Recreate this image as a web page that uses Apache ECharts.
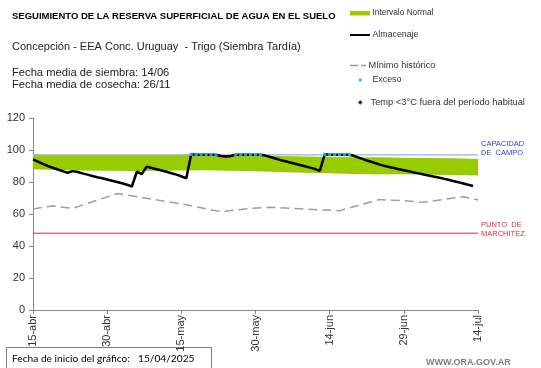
<!DOCTYPE html>
<html><head><meta charset="utf-8">
<script src="https://cdn.jsdelivr.net/npm/echarts@6/dist/echarts.min.js"></script>
<style>html,body{margin:0;padding:0;background:#fff}#c{width:541px;height:368px}</style>
</head><body><div id="c"></div>
<script>
// x tick labels (every 15 days from 15-abr)
const tickLabels = ['15-abr','30-abr','15-may','30-may','14-jun','29-jun','14-jul'];
// Almacenaje (mm), one value per day starting 15-abr
const almacenaje = [
 94.2, 92.7, 91.3, 90.0, 88.9, 87.8, 86.8, 85.8, 86.8, 86.2,
 85.4, 84.6, 83.8, 83.0, 82.3, 81.6, 80.8, 80.0, 79.2, 78.3,
 77.2, 86.4, 85.0, 89.6, 88.8, 88.0, 87.2, 86.4, 85.5, 84.6,
 83.6, 82.3, 97.3, 97.0, 97.0, 97.0, 97.0, 97.0, 96.2, 95.9,
 96.3, 97.0, 97.0, 97.0, 97.0, 97.0, 97.0, 96.5, 95.6, 94.7,
 93.8, 93.0, 92.2, 91.4, 90.6, 89.8, 89.0, 88.2, 86.9, 97.3,
 97.0, 97.0, 97.0, 97.0, 97.0, 96.2, 95.1, 94.0, 93.0, 92.0,
 91.0, 90.1, 89.4, 88.7, 88.0, 87.4, 86.7, 86.0, 85.4, 84.7,
 84.1, 83.4, 82.8, 82.1, 81.4, 80.6, 79.9, 79.1, 78.3, 77.5
];
// Exceso days (day index) and values
const excesoDias = [32,33,34,35,36,37,41,42,43,44,45,46,59,60,61,62,63,64];
const excesoVals = [97.3,97,97,97,97,97,97,97,97,97,97,97,97.3,97,97,97,97,97];
// Intervalo normal (every 5 days from 15-abr)
const bandDias = ['0','5','10','15','20','25','30','35','40','45','50','55','60','65','70','75','80','85','90'];
const bandLow  = [88.0,87.5,87.2,87.0,86.8,87.0,87.2,87.3,87.0,86.7,86.2,85.8,85.4,85.0,84.9,84.8,84.6,84.4,84.1];
const bandHigh = [97.0,97.0,97.0,97.0,97.0,97.0,97.0,97.0,96.9,96.6,96.2,95.9,95.6,95.5,95.4,95.2,95.0,94.8,94.4];
// Mínimo histórico
const minDias = [0,4,8,17,30,38,44,48,53,58,62,70,75,79,87,90];
const minVals = [63.2,65.0,63.5,72.8,66.3,61.5,63.5,64.2,63.4,62.6,62.1,69.0,68.3,67.3,70.8,68.8];
const capacidadCampo = 97;
const puntoMarchitez = 48;

const F = '"Liberation Sans", Arial, sans-serif';
const chart = echarts.init(document.getElementById('c'), null, {renderer:'canvas'});
const txt = (t, x, y, font, fill) => ({type:'text', x, y, silent:true,
  style:{text:t, font, fill: fill || '#1a1a1a', align:'left', verticalAlign:'middle'}});
const refLine = (name, val, color, width, label, labelColor, dy, z) => ({
  name, type:'line', symbol:'none', silent:true, z,
  lineStyle:{color, width, type:'solid'},
  data:[[0,val],[90,val]],
  endLabel:{show:true, formatter:label, color:labelColor, fontSize:7.5, lineHeight:9, fontFamily:F,
    distance:3, offset:[0,dy]}
});

chart.setOption({
  animation:false,
  grid:{left:33, right:63, top:118, bottom:58, containLabel:false, outerBoundsMode:'none'},
  xAxis:[
   {type:'value', min:0, max:90, interval:15,
    axisLine:{lineStyle:{color:'#868686', width:1}},
    axisTick:{show:true, length:4, lineStyle:{color:'#868686'}},
    splitLine:{show:false},
    axisLabel:{rotate:90, margin:5, fontSize:11, color:'#333', fontFamily:F,
      formatter:v => tickLabels[Math.round(v/15)] || ''}},
   {type:'category', data:bandDias, boundaryGap:false, show:false, position:'bottom'}
  ],
  yAxis:{type:'value', min:0, max:120, interval:20,
    name:'Milímetros', nameLocation:'middle', nameRotate:90, nameGap:26,
    nameTextStyle:{fontSize:6.5, fontWeight:'bold', color:'#333', fontFamily:F},
    axisLine:{show:true, lineStyle:{color:'#868686', width:1}},
    axisTick:{show:true, length:4, lineStyle:{color:'#868686'}},
    splitLine:{show:false},
    axisLabel:{fontSize:11, color:'#333', fontFamily:F, margin:8}},
  series:[
    {name:'bandLow', type:'line', xAxisIndex:1, stack:'band', symbol:'none', silent:true,
     lineStyle:{width:0, opacity:0},
     data: bandLow},
    {name:'Intervalo Normal', type:'line', xAxisIndex:1, stack:'band', symbol:'none', silent:true,
     lineStyle:{width:0, opacity:0}, areaStyle:{color:'#99CC00', opacity:1},
     data: bandHigh.map((h,i)=>+(h-bandLow[i]).toFixed(2))},
    refLine('Capacidad de campo', capacidadCampo, '#9CB2D6', 1.3, 'CAPACIDAD\nDE  CAMPO', '#3B3BB8', -6, 3),
    refLine('Punto de marchitez', puntoMarchitez, '#CC3333', 1, 'PUNTO  DE\nMARCHITEZ', '#CC3333', -4, 3),
    {name:'Mínimo histórico', type:'line', symbol:'none', silent:true, z:3,
     lineStyle:{color:'#9E9E9E', width:1.5, type:[9,5]},
     data: minDias.map((d,i)=>[d, minVals[i]])},
    {name:'Almacenaje', type:'line', symbol:'none', silent:true, z:4,
     lineStyle:{color:'#000', width:2.5},
     data: almacenaje.map((v,i)=>[i, v])},
    {name:'Exceso', type:'scatter', symbol:'rect', symbolSize:3.2, silent:true, z:5,
     itemStyle:{color:'#2EC4E6'},
     data: excesoDias.map((d,i)=>[d, excesoVals[i]])}
  ],
  graphic:[
    txt('SEGUIMIENTO DE LA RESERVA SUPERFICIAL DE AGUA EN EL SUELO', 12, 16, 'bold 9.5px '+F, '#000'),
    txt('Concepción - EEA Conc. Uruguay  - Trigo (Siembra Tardía)', 12, 46.5, '11px '+F, '#222'),
    txt('Fecha media de siembra: 14/06', 12, 73.4, '11.2px '+F, '#222'),
    txt('Fecha media de cosecha: 26/11', 12, 84.5, '11.2px '+F, '#222'),
    {type:'rect', silent:true, shape:{x:350, y:11, width:20, height:4.5}, style:{fill:'#99CC00'}},
    txt('Intervalo Normal', 372.5, 13, '8.3px '+F, '#333'),
    {type:'line', silent:true, shape:{x1:350, y1:35, x2:370, y2:35}, style:{stroke:'#000', lineWidth:2}},
    txt('Almacenaje', 372.5, 35, '8.8px '+F, '#333'),
    {type:'line', silent:true, shape:{x1:350, y1:65.5, x2:366, y2:65.5}, style:{stroke:'#999', lineWidth:1.5, lineDash:[8,3]}},
    txt('Mínimo histórico', 368.5, 65.5, '9.2px '+F, '#333'),
    {type:'circle', silent:true, shape:{cx:360.3, cy:80, r:1.7}, style:{fill:'#2EC4E6'}},
    txt('Exceso', 372.5, 80, '8.8px '+F, '#333'),
    {type:'polygon', silent:true, shape:{points:[[360.3,100],[362.6,102.4],[360.3,104.8],[358,102.4]]}, style:{fill:'#1F2A8C'}},
    txt('Temp <3°C fuera del período habitual', 370.5, 102.4, '9.3px '+F, '#333'),
    {type:'rect', silent:true, shape:{x:6.5, y:347.5, width:205, height:30}, style:{fill:'none', stroke:'#808080', lineWidth:1}},
    txt('Fecha de inicio del gráfico:', 12, 359, '10.2px Lato, sans-serif', '#000'),
    txt('15/04/2025', 138, 359, '10.2px Lato, sans-serif', '#000'),
    txt('WWW.ORA.GOV.AR', 426, 363, 'bold 9px '+F, '#7F7F7F')
  ]
});
</script></body></html>
